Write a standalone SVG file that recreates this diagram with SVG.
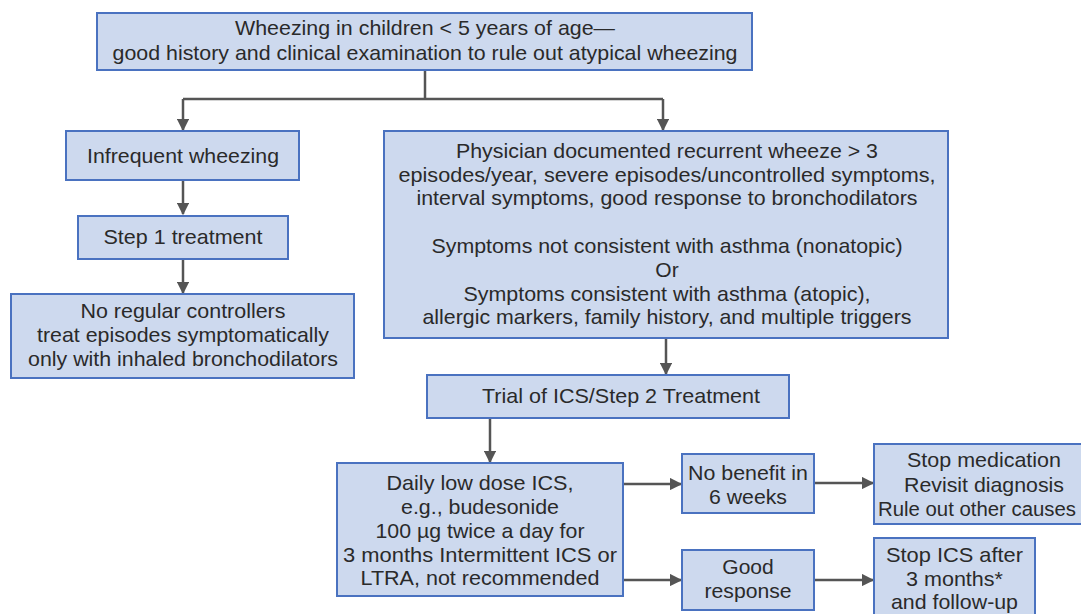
<svg xmlns="http://www.w3.org/2000/svg" width="1081" height="614" viewBox="0 0 1081 614">
<style>
.box{fill:#cdd9ee;stroke:#4a72c0;stroke-width:2}
text{font-family:"Liberation Sans",Arial,sans-serif;font-size:21px;fill:#2a2a2a;text-anchor:middle}
.c{fill:none;stroke:#555;stroke-width:2.5}
</style>
<defs>
<marker id="ah" viewBox="0 0 10 10" refX="9" refY="5" markerWidth="5" markerHeight="5" orient="auto" markerUnits="strokeWidth">
<path d="M0,0 L10,5 L0,10 Z" fill="#555"/>
</marker>
</defs>
<rect width="1081" height="614" fill="#fff"/>
<g id="connectors">
<path class="c" d="M425,70 V99"/>
<path class="c" d="M183,99 H663"/>
<path class="c" d="M183,99 V130" marker-end="url(#ah)"/>
<path class="c" d="M663,99 V130" marker-end="url(#ah)"/>
<path class="c" d="M183,180 V214" marker-end="url(#ah)"/>
<path class="c" d="M183,259 V293" marker-end="url(#ah)"/>
<path class="c" d="M666,338 V374" marker-end="url(#ah)"/>
<path class="c" d="M490,418 V462" marker-end="url(#ah)"/>
<path class="c" d="M623,484 H681" marker-end="url(#ah)"/>
<path class="c" d="M623,580 H681" marker-end="url(#ah)"/>
<path class="c" d="M814,483 H873" marker-end="url(#ah)"/>
<path class="c" d="M814,580 H873" marker-end="url(#ah)"/>
</g>
<g id="n-top">
<rect class="box" x="97" y="13" width="655" height="57"/>
<text x="425" y="35" textLength="380" lengthAdjust="spacingAndGlyphs">Wheezing in children &lt; 5 years of age—</text>
<text x="425" y="60" textLength="625" lengthAdjust="spacingAndGlyphs">good history and clinical examination to rule out atypical wheezing</text>
</g>
<g id="n-infrequent">
<rect class="box" x="66" y="131" width="233" height="49"/>
<text x="183" y="163" textLength="192" lengthAdjust="spacingAndGlyphs">Infrequent wheezing</text>
</g>
<g id="n-step1">
<rect class="box" x="78" y="216" width="210" height="43"/>
<text x="183" y="244" textLength="159" lengthAdjust="spacingAndGlyphs">Step 1 treatment</text>
</g>
<g id="n-noregular">
<rect class="box" x="11" y="294" width="343" height="84"/>
<text x="183" y="318" textLength="205" lengthAdjust="spacingAndGlyphs">No regular controllers</text>
<text x="183" y="342" textLength="292" lengthAdjust="spacingAndGlyphs">treat episodes symptomatically</text>
<text x="183" y="366" textLength="310" lengthAdjust="spacingAndGlyphs">only with inhaled bronchodilators</text>
</g>
<g id="n-physician">
<rect class="box" x="384" y="131" width="564" height="207"/>
<text x="667" y="158" textLength="422" lengthAdjust="spacingAndGlyphs">Physician documented recurrent wheeze &gt; 3</text>
<text x="667" y="182" textLength="537" lengthAdjust="spacingAndGlyphs">episodes/year, severe episodes/uncontrolled symptoms,</text>
<text x="667" y="205" textLength="501" lengthAdjust="spacingAndGlyphs">interval symptoms, good response to bronchodilators</text>
<text x="667" y="253" textLength="471" lengthAdjust="spacingAndGlyphs">Symptoms not consistent with asthma (nonatopic)</text>
<text x="667" y="277">Or</text>
<text x="667" y="301" textLength="407" lengthAdjust="spacingAndGlyphs">Symptoms consistent with asthma (atopic),</text>
<text x="667" y="324" textLength="489" lengthAdjust="spacingAndGlyphs">allergic markers, family history, and multiple triggers</text>
</g>
<g id="n-trial">
<rect class="box" x="427" y="375" width="362" height="43"/>
<text x="621" y="403" textLength="278" lengthAdjust="spacingAndGlyphs">Trial of ICS/Step 2 Treatment</text>
</g>
<g id="n-daily">
<rect class="box" x="337" y="463" width="286" height="133"/>
<text x="480" y="490" textLength="187" lengthAdjust="spacingAndGlyphs">Daily low dose ICS,</text>
<text x="480" y="514" textLength="158" lengthAdjust="spacingAndGlyphs">e.g., budesonide</text>
<text x="480" y="538" textLength="209" lengthAdjust="spacingAndGlyphs">100 µg twice a day for</text>
<text x="480" y="562" textLength="274" lengthAdjust="spacingAndGlyphs">3 months Intermittent ICS or</text>
<text x="480" y="585" textLength="239" lengthAdjust="spacingAndGlyphs">LTRA, not recommended</text>
</g>
<g id="n-nobenefit">
<rect class="box" x="682" y="454" width="132" height="59"/>
<text x="748" y="480" textLength="120" lengthAdjust="spacingAndGlyphs">No benefit in</text>
<text x="748" y="504" textLength="78" lengthAdjust="spacingAndGlyphs">6 weeks</text>
</g>
<g id="n-stopmed">
<rect class="box" x="874" y="444" width="220" height="80"/>
<text x="984" y="467" textLength="154" lengthAdjust="spacingAndGlyphs">Stop medication</text>
<text x="984" y="492" textLength="160" lengthAdjust="spacingAndGlyphs">Revisit diagnosis</text>
<text x="977" y="516" style="font-size:20px" textLength="198" lengthAdjust="spacingAndGlyphs">Rule out other causes</text>
</g>
<g id="n-good">
<rect class="box" x="682" y="550" width="132" height="60"/>
<text x="748" y="574">Good</text>
<text x="748" y="598" textLength="87" lengthAdjust="spacingAndGlyphs">response</text>
</g>
<g id="n-stopics">
<rect class="box" x="874" y="538" width="161" height="82"/>
<text x="954.5" y="562" textLength="137" lengthAdjust="spacingAndGlyphs">Stop ICS after</text>
<text x="954.5" y="586" textLength="97" lengthAdjust="spacingAndGlyphs">3 months*</text>
<text x="954.5" y="609" textLength="127" lengthAdjust="spacingAndGlyphs">and follow-up</text>
</g>
</svg>
